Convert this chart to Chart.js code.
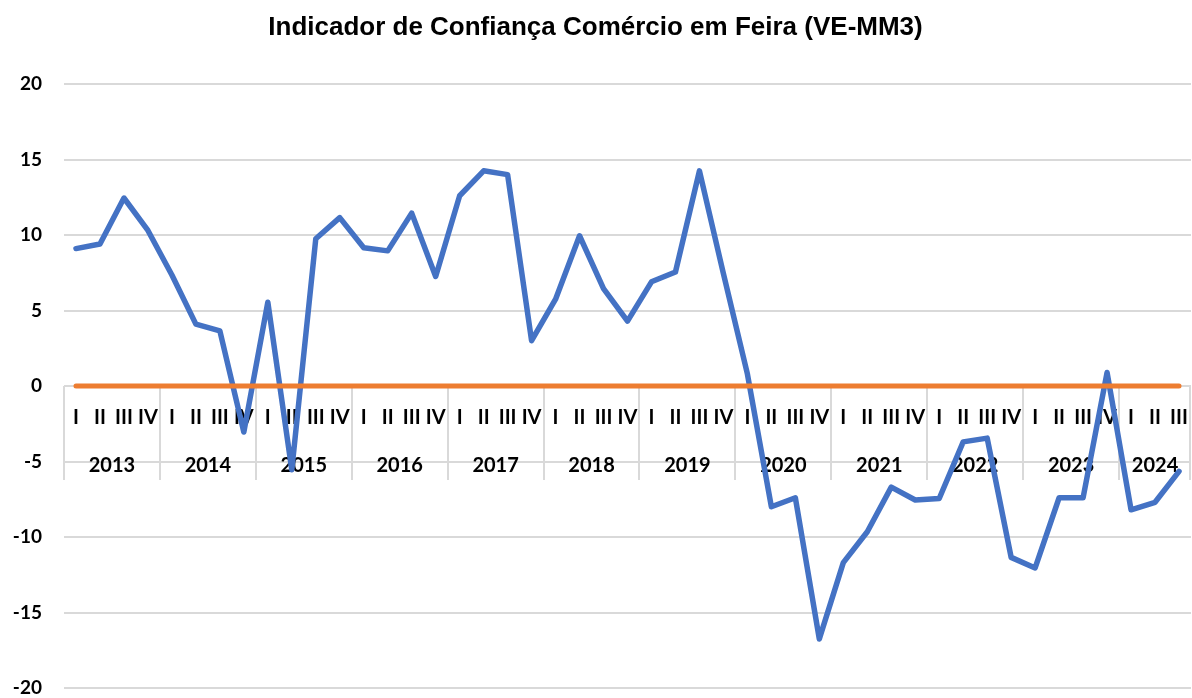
<!DOCTYPE html>
<html>
<head>
<meta charset="utf-8">
<script src="https://cdn.jsdelivr.net/npm/chart.js@4/dist/chart.umd.min.js"></script>
<style>
  html, body { margin: 0; padding: 0; background: #ffffff; }
  #wrap { width: 1192px; height: 698px; position: relative; }
</style>
</head>
<body>
<div id="wrap"><canvas id="c" width="1192" height="698"></canvas></div>
<script>
const years = ["2013","2014","2015","2016","2017","2018","2019","2020","2021","2022","2023","2024"];
const quarterNames = ["I","II","III","IV"];
const quarterCounts = [4,4,4,4,4,4,4,4,4,4,4,3];
const confidence = [
  9.1, 9.4, 12.45, 10.3,
  7.35, 4.1, 3.65, -3.05,
  5.55, -5.55, 9.75, 11.15,
  9.15, 8.95, 11.45, 7.25,
  12.6, 14.25, 14.0, 3.0,
  5.75, 9.95, 6.45, 4.3,
  6.9, 7.55, 14.25, 7.45,
  0.8, -8.0, -7.4, -16.75,
  -11.7, -9.65, -6.7, -7.55,
  -7.45, -3.7, -3.45, -11.35,
  -12.05, -7.4, -7.4, 0.9,
  -8.2, -7.7, -5.65
];
const yTicks = [-20,-15,-10,-5,0,5,10,15,20];

const labels = [];
years.forEach((y, yi) => { for (let q = 0; q < quarterCounts[yi]; q++) labels.push(quarterNames[q] + " " + y); });
const zeroLine = labels.map(() => 0);

const axisLabels = {
  id: 'axisLabels',
  beforeDatasetsDraw(chart) {
    const ctx = chart.ctx;
    const xs = chart.scales.x, ys = chart.scales.y;
    const y0 = ys.getPixelForValue(0);
    const step = xs.getPixelForValue(1) - xs.getPixelForValue(0);
    ctx.save();
    ctx.strokeStyle = '#d9d9d9';
    ctx.lineWidth = 2;
    let idx = 0;
    const bounds = [];
    years.forEach((y, yi) => {
      const start = xs.getPixelForValue(idx) - step / 2;
      const end = xs.getPixelForValue(idx + quarterCounts[yi] - 1) + step / 2;
      bounds.push([start, end]);
      idx += quarterCounts[yi];
    });
    const edges = bounds.map(b => b[0]).concat([bounds[bounds.length - 1][1]]);
    edges.forEach(x => {
      const xx = Math.min(Math.round(x), chart.chartArea.right - 1);
      ctx.beginPath();
      ctx.moveTo(xx, y0);
      ctx.lineTo(xx, y0 + 94);
      ctx.stroke();
    });
    ctx.fillStyle = '#000000';
    ctx.textAlign = 'center';
    ctx.textBaseline = 'middle';
    ctx.font = 'bold 20px Lato';
    idx = 0;
    years.forEach((y, yi) => {
      for (let q = 0; q < quarterCounts[yi]; q++) {
        ctx.fillText(quarterNames[q], xs.getPixelForValue(idx), y0 + 32);
        idx++;
      }
    });
    ctx.font = 'bold 20px Lato';
    years.forEach((y, yi) => {
      const b = bounds[yi];
      ctx.fillText(y, (b[0] + Math.min(b[1], chart.chartArea.right)) / 2, y0 + 80);
    });
    ctx.restore();
  }
};

new Chart(document.getElementById('c'), {
  type: 'line',
  data: {
    labels: labels,
    datasets: [
      {
        label: 'Zero',
        data: zeroLine,
        borderColor: '#ED7D31',
        borderWidth: 5,
        pointRadius: 0,
        borderCapStyle: 'round',
        tension: 0,
        order: 0
      },
      {
        label: 'Indicador de Confiança',
        data: confidence,
        borderColor: '#4472C4',
        borderWidth: 5.5,
        pointRadius: 0,
        borderCapStyle: 'round',
        borderJoinStyle: 'round',
        tension: 0,
        order: 1
      }
    ]
  },
  options: {
    responsive: false,
    animation: false,
    devicePixelRatio: 1,
    layout: { padding: { left: 0, right: 1, top: 0, bottom: 10 } },
    plugins: {
      legend: { display: false },
      tooltip: { enabled: false },
      title: {
        display: true,
        text: 'Indicador de Confiança Comércio em Feira (VE-MM3)',
        color: '#000000',
        font: { family: 'Liberation Sans', size: 26, weight: 'bold', lineHeight: 1.2 },
        padding: { top: 12, bottom: 40.8 }
      }
    },
    scales: {
      x: {
        type: 'category',
        offset: true,
        display: false
      },
      y: {
        min: -20,
        max: 20,
        afterBuildTicks(scale) { scale.ticks = yTicks.map(v => ({ value: v })); },
        afterFit(scale) { scale.width = 64; scale.paddingTop = 0; scale.paddingBottom = 0; },
        border: { display: false },
        grid: { color: '#d9d9d9', lineWidth: 2, drawTicks: false },
        ticks: {
          color: '#000000',
          padding: 22,
          font: { family: 'Lato', size: 19, weight: 'bold' }
        }
      }
    }
  },
  plugins: [axisLabels]
});
</script>
</body>
</html>
